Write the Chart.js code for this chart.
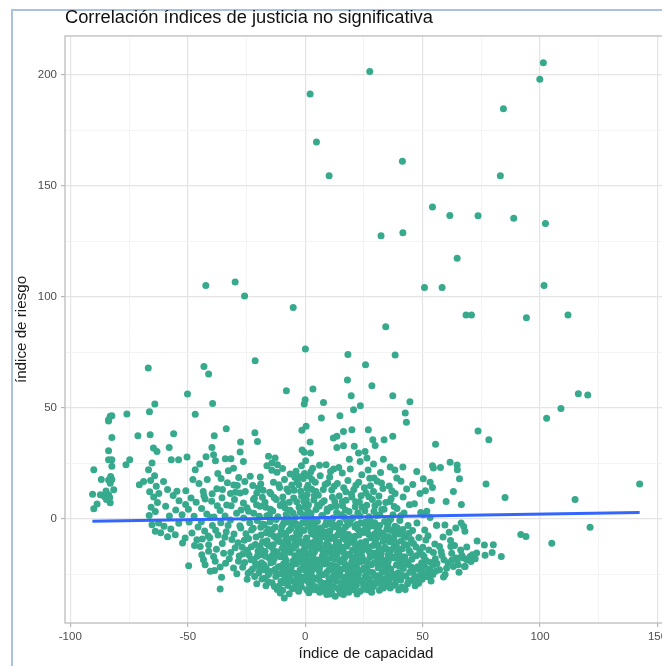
<!DOCTYPE html>
<html lang="es">
<head>
<meta charset="utf-8">
<title>Correlación índices de justicia no significativa</title>
<script src="https://cdn.jsdelivr.net/npm/chart.js@4.4.1/dist/chart.umd.min.js"></script>
<style>
  html, body { margin: 0; padding: 0; background: #ffffff; overflow: hidden; }
  #marco {
    position: absolute; left: 11px; top: 9px; width: 720px; height: 720px;
    border-left: 2px solid #a9c2e2; border-top: 2px solid #a9c2e2; z-index: 0;
  }
  #lienzo { position: absolute; left: 0; top: 0; width: 680px; height: 666px; z-index: 1; }
</style>
</head>
<body>
<div id="marco"></div>
<div id="lienzo"><canvas id="grafico" width="680" height="666"></canvas></div>
<script>
// Valores atípicos altos: [índice de capacidad, índice de riesgo]
const puntosAltos = [
  [27.5,201.5],[2.1,191.4],[4.8,169.7],[10.2,154.5],[41.4,161],[32.3,127.5],[41.6,128.8],
  [-42.3,105.1],[-29.8,106.6],[-25.8,100.3],[-5.1,95.2],[34.3,86.5],[0.1,76.4],[18.2,74],
  [38.3,73.7],[-21.3,71.2],[25.7,69.4],[-43.1,68.6],[-41.1,65.2],[18,62.5],[101.4,205.4],
  [99.9,198],[84.4,184.7],[83.1,154.5],[54.2,140.4],[61.6,136.6],[73.6,136.5],[88.8,135.4],
  [102.3,133],[64.7,117.4],[50.8,104.2],[58.3,104.2],[101.7,105.1],[68.5,91.8],[70.8,91.8],
  [94.2,90.5],[111.9,91.8],[-66.8,67.9],[-50.1,56.2],[3.3,58.4],[0,53.6],[-0.4,51.7],
  [-8,57.7],[28.4,59.9],[37.3,55.4],[44.6,52.7],[42.6,47.6],[43.1,43.4],[19.6,55.4],
  [23.5,50.9],[20.6,49.1],[7.8,52.4],[14.8,46.4],[6.9,45.4],[116.3,56.3],[120.3,55.7],
  [108.9,49.7],[102.8,45.2],[73.6,39.5],[78.2,35.6]
];

// Grupo del extremo izquierdo
const grupoIzquierdo = [
  [-90,22],[-90.5,11],[-90,4.5],[-88.6,6.6],[-86.8,17.6],[-87.2,10.8],[-85.5,10],[-83.7,44.6],
  [-83,46.1],[-82.3,46.4],[-83.7,44],[-82.3,36.6],[-83.7,30.6],[-83.7,26.6],[-82.3,26.6],
  [-82.3,23.6],[-82.8,19],[-82.3,17.6],[-83.7,17.4],[-83,16],[-83.7,10.8],[-83,7.2],
  [-84.6,8.6],[-83.2,9.5],[-75.9,47.2],[-76.3,24.3],[-74.7,26.6],[-71.2,37.4],[-70.6,15.3],
  [-68.8,16.8],[-84.8,12.5],[-81.5,13]
];

// Zona intermedia izquierda (capacidad entre -70 y -20)
const grupoMedio = [
  [-66,37.8],[-66.3,48.2],[-64,51.7],[-64.6,31.8],[-63.1,30.3],[-65.2,25.1],[-66.7,22.1],
  [-64.1,19.4],[-65.8,17.2],[-63.4,14.6],[-66.2,12.1],[-64.5,9.8],[-62.9,7.3],[-65.6,5.1],
  [-63.8,3.2],[-66.4,1.4],[-62.3,11.4],[-56,38.3],[-57.9,32.1],[-57,26.6],[-53.9,26.6],
  [-50.3,27.8],[-60.3,16.8],[-58.6,13.2],[-56.2,10.4],[-53.7,8.1],[-59.4,5.6],[-55.1,3.9],
  [-52.4,1.8],[-57.8,1.2],[-50.8,12.6],[-48.6,9.3],[-46.8,22.1],[-46.8,47],[-39.4,51.9],
  [-38.7,37.4],[-33.6,40.5],[-27.5,34.5],[-27.7,30],[-21.4,38.7],[-39.7,32.1],[-39,28.8],
  [-38.2,26.1],[-34,27],[-31.6,27],[-30.5,22.7],[-20.3,34.8],[-26.3,25.8],[-45.2,15.8],
  [-43.4,12.2],[-41.7,17.6],[-39.8,7.9],[-37.6,13.5],[-35.4,9.4],[-33.1,16.2],[-31.5,5.8],
  [-29.7,11.9],[-28.3,18.6],[-26.3,7.1],[-27.7,11.6],[-25.5,12.3],[-44.1,4.6],[-41.9,2.1],
  [-38.8,0.8],[-36.2,3.7],[-34.1,1.2],[-31.8,-0.6],[-29.2,2.4],[-47.3,1.1],[-49.7,4.2],
  [-42.6,8.9],[-37.2,20.4],[-32.7,21.6],[-35.8,18.1],[-30.4,15.2],[-47.8,17.7],[-44.9,24.6],
  [-42.2,27.9],[-65.2,-2.7],[-62.4,-1.9],[-63.8,-5.7],[-60.1,-3.4],[-57.2,-4.6],[-55.3,-7.2],
  [-51.1,-8.7],[-48.2,-6.4],[-46.1,-9.5],[-44.7,-12.5],[-41.1,-11.7],[-52.2,-11],[-53.8,-2.1],
  [-49.4,-1.5],[-44,-16.2],[-41.1,-14.7],[-39,-17],[-38.3,-19.2],[-43.3,-18.5],[-42.6,-20.7],
  [-40.4,-23.7],[-38.6,-23.3],[-36.2,-21.8],[-49.6,-21.2],[-36.2,-31.7],[-30.5,-22.2],
  [-29.1,-24.8],[-28.4,-19.2],[-26.5,-15.9],[-45.6,-3.8],[-42.8,-5.6],[-39.5,-3.1],[-37.1,-7.4],
  [-35.3,-11.2],[-33.6,-5.9],[-31.2,-9.4],[-29.8,-13.1],[-27.4,-4.2],[-25.9,-9.7],[-34.7,-15.6],
  [-32.3,-18.1],[-37.8,-13.8],[-40.6,-8.6],[-58.6,-8.1],[-61.5,-6.3],
  [-44.2,-1.4],[-41.3,-7.8],[-38.1,-5.2],[-35.9,-1.8],[-32.8,-3.1],[-30.3,-6.9],[-28.6,-10.8],
  [-26.8,-12.9],[-34.2,-8.4],[-40.3,0.6],[-37.4,5.8],[-33.4,6.2],[-30.1,8.7],[-27.3,3.9],
  [-43.1,10.3],[-46.4,7.4],[-39.6,11.2],[-35.2,13.1],[-31.8,11.4],[-28.9,14.9],[-25.7,16.7],
  [-50.9,6.4],[-54.6,12.4],[-47.1,-12.1],[-43.8,-9.1],[-31.7,-15.2],[-28.1,-16.8],[-33.9,-20.1],
  [-26.6,-21.9],[-24.7,-27.3],[-35.6,-26.4]
];

// Núcleo denso (capacidad entre -25 y 45), primera pasada por franjas verticales
const nucleo = [
  [-24.6,-14.2],[-23.1,-18.5],[-22.4,-22.7],[-21.5,-26.1],[-20.6,-29.3],[-24.1,-8.9],[-22.8,-5.1],
  [-21.2,-11.6],[-20.4,-16.9],[-23.6,-1.8],[-21.9,2.4],[-24.8,4.9],[-20.7,6.3],[-22.3,14.9],
  [-19.9,13.8],[-20.6,11.6],[-22,8.6],[-23.4,19.1],[-21.1,-20.3],[-24.3,-24.6],
  [-19.1,18.8],[-16.3,23.9],[-15.6,28.1],[-18.2,9.7],[-16.8,5.2],[-19.5,1.1],[-17.4,-2.6],
  [-15.9,-4.8],[-18.8,-7.3],[-16.2,-9.9],[-19.3,-12.4],[-17.1,-14.8],[-15.4,-17.6],[-18.6,-19.9],
  [-16.6,-22.1],[-19.7,-24.5],[-17.2,-26.8],[-15.8,-28.4],[-16.7,-30.2],[-18.9,-3.9],[-15.2,1.7],
  [-17.9,12.8],[-15.5,-12.1],[-19,-16.2],
  [-14.2,25.1],[-12.8,27.3],[-11.8,24.3],[-14.2,21.8],[-12,20.9],[-13.5,16.4],[-10.9,14.1],
  [-14.6,11.2],[-12.3,8.7],[-10.4,6.1],[-13.8,3.5],[-11.6,0.9],[-14.9,-1.4],[-12.7,-3.8],
  [-10.2,-5.5],[-13.3,-7.9],[-11.1,-10.3],[-14.4,-12.6],[-12.1,-14.9],[-10.6,-17.2],[-13.7,-19.4],
  [-11.4,-21.7],[-14.8,-23.8],[-12.5,-26.1],[-10.3,-28.3],[-13.1,-30.6],[-10.6,-33.5],[-11.9,-31.9],
  [-14,-16.6],[-10.8,-24.8],
  [-8.9,-35.7],[-9.6,-32.2],[-7.3,-30.1],[-5.4,-31.6],[-8.1,-27.5],[-6.2,-25.3],[-9.4,-23.4],
  [-7.6,-21.1],[-5.3,-19.2],[-8.7,-17.4],[-6.5,-15.1],[-9.8,-13.3],[-7.2,-11.2],[-5.6,-8.8],
  [-8.4,-6.7],[-6.1,-4.4],[-9.2,-2.2],[-7.5,0.4],[-5.2,2.6],[-8.6,4.9],[-6.8,7.4],[-9.5,9.8],
  [-7.1,12.3],[-5.7,15.2],[-8.8,17.6],[-6.4,20.1],[-5.8,-23.9],[-9.1,-28.9],[-6.9,-1.6],[-8.3,-9.6],
  [-2.8,-32.7],[-4.1,-29.4],[-1.6,-30.8],[-3.5,-27.2],[-0.7,-26.4],[-4.6,-24.6],[-2.2,-23.1],
  [-0.4,-21.2],[-3.8,-20.3],[-1.3,-18.4],[-4.4,-16.7],[-2.6,-14.9],[-0.3,-13.6],[-3.9,-12.1],
  [-1.7,-10.4],[-4.8,-8.6],[-2.4,-7.1],[-0.6,-5.3],[-3.3,-3.6],[-1.1,-1.8],[-4.3,0.7],[-2.1,2.9],
  [-0.2,5.4],[-3.6,7.6],[-1.5,10.1],[-4.7,12.8],[-2.7,15.3],[-0.8,18.1],[-3.9,21.4],[-1.3,30.9],
  [-0.4,29.9],[-1.4,39.8],[-4.2,-11.3],[-1.9,-28.5],[-3,-18.9],
  [0.7,-32],[1.9,-29.6],[4.2,-30.5],[3.1,-27.8],[0.9,-25.6],[2.6,-24.1],[4.7,-22.5],[1.3,-20.8],
  [3.5,-19.1],[0.4,-17.3],[2.2,-15.6],[4.4,-13.9],[1.6,-12.2],[3.8,-10.5],[0.6,-8.7],[2.9,-6.9],
  [4.9,-5.2],[1.2,-3.4],[3.4,-1.7],[0.3,0.6],[2.5,2.3],[4.6,4.1],[1.4,6.2],[3.7,8.4],[0.8,10.9],
  [2.8,13.3],[4.3,16.4],[1.7,19.2],[3.2,22.7],[0.4,41.6],[2.1,34.5],[2.3,29.6],[0.2,26.1],
  [4.1,-26.9],[2,-11.4],[0.9,-21.9],
  [5,-32],[9.2,-34.2],[6.8,-31.1],[8.4,-29.2],[5.7,-27.4],[7.6,-25.3],[9.5,-23.8],[6.1,-22.2],
  [8.2,-20.4],[5.4,-18.6],[7.3,-16.8],[9.7,-15.1],[6.6,-13.3],[8.8,-11.6],[5.9,-9.8],[7.9,-8.1],
  [9.9,-6.4],[6.3,-4.6],[8.6,-2.9],[5.2,-1.1],[7.4,1.2],[9.3,3.4],[6,5.7],[8.1,8.1],[5.6,10.6],
  [7.7,13.2],[9.6,16.1],[6.4,19.4],[8.9,24.3],[9.1,-19.7],[6.5,-7.2],[8,-32.6],
  [12.8,-35],[11.2,-32.9],[14.1,-31.6],[10.6,-29.8],[13.2,-28.1],[11.7,-26.3],[14.6,-24.6],
  [10.3,-22.9],[12.5,-21.2],[14.8,-19.4],[11.1,-17.7],[13.6,-15.9],[10.8,-14.2],[12.9,-12.4],
  [14.3,-10.7],[11.4,-8.9],[13.9,-7.2],[10.5,-5.4],[12.2,-3.7],[14.7,-1.9],[11.8,0.3],[13.4,2.8],
  [10.9,5.1],[12.6,7.8],[14.5,10.2],[11.3,12.9],[13.7,15.8],[10.4,18.7],[12,36.3],[13.5,37.1],
  [13.5,32.1],[12.1,22.4],[10.7,-33.9],[13,-26.9],
  [16.3,-34.2],[18.6,-33.1],[15.7,-31.5],[17.9,-29.7],[19.6,-28.2],[16.2,-26.4],[18.3,-24.7],
  [15.4,-22.9],[17.5,-21.2],[19.8,-19.5],[16.8,-17.6],[18.9,-15.9],[15.6,-14.1],[17.7,-12.4],
  [19.4,-10.6],[16.1,-8.8],[18.4,-7.1],[15.3,-5.3],[17.2,-3.6],[19.1,-1.8],[16.6,0.7],[18.7,3.2],
  [15.9,5.8],[17.4,8.3],[19.7,11.1],[16.4,13.9],[18.2,17.2],[15.8,20.6],[17.6,-32.4],[16.3,39.3],
  [19.9,40.1],[16.3,32.9],[18.8,26.8],
  [20.6,-32],[23.4,-32.7],[21.8,-30.1],[24.2,-28.4],[20.9,-26.7],[22.7,-24.9],[24.6,-23.1],
  [21.3,-21.4],[23.1,-19.6],[20.4,-17.8],[22.2,-16.1],[24.4,-14.3],[21.6,-12.5],[23.7,-10.8],
  [20.8,-9.1],[22.9,-7.3],[24.8,-5.6],[21.2,-3.8],[23.5,-2.1],[20.3,0.4],[22.4,2.7],[24.3,5.2],
  [21.5,7.6],[23.8,10.3],[20.7,13.1],[22.8,16.4],[24.1,19.8],[20.9,32.6],[22.7,29.6],[23.4,25.8],
  [21.7,-28.9],
  [26.3,-29.7],[29.1,-30.5],[27.4,-27.8],[25.6,-25.9],[28.7,-24.3],[26.1,-22.6],[28.2,-20.8],
  [25.3,-19.1],[27.6,-17.3],[29.5,-15.6],[26.7,-13.8],[28.9,-12.1],[25.8,-10.3],[27.9,-8.6],
  [29.7,-6.8],[26.4,-5.1],[28.4,-3.3],[25.5,-1.6],[27.2,0.9],[29.3,3.4],[26.2,6.1],[28.6,8.7],
  [25.9,11.6],[27.8,14.8],[29.4,18.3],[26.8,21.9],[25.5,30.3],[26.3,27.3],[29.1,24.6],[26.9,40.1],
  [28.8,35.6],[29.8,33],[27,-32.1],
  [33.3,-31.2],[31.2,-29.1],[34.1,-27.5],[30.6,-25.7],[32.8,-24.1],[34.7,-22.3],[31.5,-20.6],
  [33.6,-18.8],[30.3,-17.1],[32.4,-15.3],[34.4,-13.6],[31.1,-11.8],[33.2,-10.1],[30.8,-8.3],
  [32.9,-6.6],[34.8,-4.8],[31.7,-3.1],[33.8,-1.3],[30.4,1.4],[32.6,4.1],[34.3,7.3],[31.4,10.2],
  [33.1,13.6],[30.7,16.9],[33.3,26.8],[33.6,35.6],[34.5,-29.9],
  [36.2,-31.2],[38.4,-29.6],[35.7,-27.9],[37.9,-26.2],[39.6,-24.4],[36.5,-22.7],[38.8,-20.9],
  [35.4,-19.2],[37.2,-17.4],[39.3,-15.7],[36.8,-13.9],[38.6,-12.2],[35.9,-10.4],[37.7,-8.7],
  [39.8,-6.9],[36.3,-5.2],[38.2,-3.4],[35.6,-1.1],[37.4,1.8],[39.1,4.6],[36.1,7.8],[38.3,11.4],
  [35.8,14.7],[39,18.3],[36.2,23.3],[37.3,37.1],
  [41.1,-30.8],[43.6,-29.3],[40.7,-27.6],[42.9,-25.8],[44.5,-24.1],[41.8,-22.4],[43.9,-20.6],
  [40.5,-18.9],[42.4,-17.1],[44.8,-15.4],[41.3,-13.6],[43.5,-11.9],[40.9,-10.1],[42.7,-8.4],
  [44.2,-6.6],[41.6,-4.9],[43.8,-3.1],[40.3,-0.8],[42.1,2.6],[44.4,6.3],[41.7,9.8],[43.2,13.4],
  [40.8,16.9],[41.6,23.3]
];

// Núcleo denso, segunda pasada por bandas horizontales
const nucleoInterior = [
  [-11.2,-30.4],[-6.8,-33.8],[-3.9,-31.2],[1.6,-33.4],[6.2,-33.1],[10.1,-31.4],[14.9,-33.6],
  [19.2,-30.9],[22.1,-33.9],[25.3,-31.8],[31.6,-32.2],[37.4,-30.1],[42.6,-31.9],[47.9,-28.9],
  [-18.4,-27.2],[-14.1,-28.9],[-8.7,-26.3],[-5.1,-28.1],[-1.2,-27.9],[2.8,-26.1],[6.7,-28.6],
  [11.5,-27.3],[15.1,-29.1],[18.6,-26.2],[23.2,-27.6],[27.9,-28.9],[32.1,-26.6],[35.8,-29.4],
  [39.7,-27.1],[44.1,-27.9],
  [-23.3,-23.8],[-19.4,-22.6],[-15.6,-25.2],[-12.9,-22.9],[-7.9,-24.1],[-3.1,-25.4],[0.2,-23.4],
  [3.6,-22.1],[8.9,-24.6],[12.2,-23.7],[16.8,-22.4],[20.1,-24.3],[25.1,-22.1],[29.2,-25.6],
  [33.7,-23.2],[37.2,-24.9],[41.2,-25.5],[45.3,-21.9],
  [-25.8,-19.7],[-21.8,-18.4],[-17.7,-20.6],[-13.2,-18.1],[-9.1,-20.2],[-5.9,-21.8],[-1.8,-19.6],
  [2.4,-21.1],[6.9,-19.3],[10.9,-20.9],[15.2,-18.5],[19.1,-21.6],[22.6,-18.9],[26.9,-20.1],
  [31.9,-18.6],[35.1,-21.3],[39.9,-18.4],[43.1,-19.4],
  [-23.9,-16.4],[-20.1,-14.6],[-16.9,-16.9],[-11.8,-15.8],[-7.7,-14.2],[-4.2,-17.3],[0.1,-15.1],
  [3.3,-17.2],[7.6,-14.8],[11.9,-16.4],[16.4,-15.2],[20.2,-14.1],[24.1,-16.9],[27.3,-14.9],
  [32.2,-16.8],[36.1,-15.3],[40.1,-16.1],[44.2,-14.3],
  [-22.9,-12.7],[-18.1,-10.4],[-13.6,-11.7],[-9.3,-10.9],[-5.4,-12.8],[-1.2,-11.1],[2.7,-13.1],
  [6.1,-10.6],[10.2,-12.3],[14.2,-13.3],[18.1,-11.2],[21.9,-13.6],[25.7,-11.4],[29.9,-10.2],
  [33.9,-12.9],[37.6,-10.9],[42.3,-11.6],
  [-25.2,-6.8],[-20.9,-8.2],[-16.6,-6.3],[-12.4,-8.6],[-8.2,-7.8],[-3.6,-6.2],[0.5,-8.9],
  [4.3,-7.7],[8.6,-6.1],[12.7,-8.4],[16.7,-6.6],[21.1,-7.9],[25.1,-6.2],[29.2,-8.8],[33.6,-7.6],
  [37.9,-6.1],[41.9,-7.3],
  [-27.8,-3.2],[-22.1,-4.3],[-18.3,-2.4],[-13.9,-4.9],[-9.8,-3.3],[-5.7,-2.1],[-1.9,-4.6],
  [2.2,-2.8],[6.8,-4.2],[10.6,-2.3],[14.4,-4.8],[18.3,-2.6],[22.4,-4.7],[26.6,-2.7],[30.6,-4.4],
  [35.1,-2.9],[39.2,-4.1],
  [-26.2,0.3],[-20.4,-0.8],[-16.3,1.3],[-12.3,-0.4],[-8.1,1.9],[-4.8,-0.6],[-0.9,1.5],[3.1,-0.2],
  [7.1,1.4],[11.3,-0.9],[15.4,1.8],[19.4,-0.3],[23.3,1.1],[27.6,-0.5],[31.8,1.7],[36.4,-0.2],
  [40.7,1.3],
  [-24.1,3.4],[-19.2,5.6],[-14.8,4.2],[-10.6,5.9],[-6.4,3.8],[-2.6,5.1],[1.1,3.6],[5.3,6.1],
  [9.4,4.4],[13.2,5.7],[17.1,3.9],[21.3,5.4],[25.4,3.6],[29.7,5.8],[33.6,4.3],[37.9,5.5],
  [-21.6,9.2],[-17.1,7.4],[-13.2,9.6],[-9.4,7.1],[-4.9,9.3],[-0.6,7.9],[3.9,10.4],[7.1,7.2],
  [11.6,9.7],[15.8,7.6],[19.9,9.8],[23.1,7.5],[27.1,9.9],[31.2,7.1],[36.6,9.1],
  [-18.9,15.6],[-15.1,11.9],[-11.2,15.3],[-7.8,13.4],[-3.4,16.6],[0.7,13.7],[4.6,12.2],[8.5,15.4],
  [12.4,14.6],[17.3,12.1],[21.6,15.1],[25.2,13.9],[29.1,12.2],[32.5,16.1],[36.9,12.6],
  [-9.6,22.6],[-4.4,18.7],[-1.6,23.9],[2.4,21.1],[6.1,24.1],[10.8,21.3],[14.3,23.1],[19.2,22.4],
  [27.5,18.2],[32.1,20.8],[38.2,21.9]
];

// Núcleo denso, tercera pasada en la zona más cargada (riesgo negativo)
const nucleoCentral = [
  [-7.9,-29.1],[-2.1,-29.7],[3.4,-31.9],[8.7,-30.4],[12.3,-30.8],[17.1,-31.1],[21.2,-29.5],
  [24.9,-30.4],[28.3,-33.2],[32.7,-29.6],[39.8,-32.1],
  [-12.1,-25.3],[-6.9,-27.6],[-2.4,-26.1],[1.2,-28.2],[5.9,-25.9],[10.1,-27.1],[13.9,-26.1],
  [17.4,-28.1],[21.7,-26.1],[26.6,-26.8],[30.4,-27.9],[35.1,-25.9],[38.6,-27.9],
  [-17.2,-23.1],[-10.3,-21.4],[-6.6,-22.6],[-1.4,-22.6],[1.9,-24.6],[5.9,-23.4],[10.8,-21.9],
  [13.8,-22.1],[18.1,-23.2],[22.1,-22.3],[27.2,-23.9],[31.1,-22.1],[36.2,-23.7],[40.2,-21.3],
  [-20.7,-20.7],[-14.6,-19.9],[-8.2,-18.6],[-3.2,-17.7],[1.1,-18.9],[4.8,-20.1],[8.4,-17.6],
  [12.6,-18.3],[16.9,-20.4],[21.1,-19.6],[24.7,-18.4],[29.4,-19.9],[33.6,-20.7],[38.1,-17.7],
  [41.9,-20.2],
  [-18.8,-13.9],[-13.4,-14.4],[-9.2,-15.9],[-5.1,-13.3],[-0.9,-16.4],[3.9,-15.1],[8.2,-13.2],
  [12.1,-14.9],[16.1,-12.9],[19.3,-16.6],[23.4,-13.3],[28.1,-15.3],[31.4,-13.9],[35.3,-16.4],
  [39.4,-13.4],
  [-16.4,-11.2],[-11.9,-9.2],[-7.4,-12.4],[-3.2,-9.4],[1.3,-10.6],[5.1,-12.1],[9.6,-9.7],
  [13.3,-10.9],[17.4,-9.6],[21.3,-11.3],[26.3,-12.4],[30.1,-11.2],[34.6,-9.5],[38.9,-10.8],
  [-14.8,-6.9],[-10.9,-7.6],[-6.9,-5.3],[-2.9,-8.2],[2.4,-5.6],[6.2,-8.7],[10.4,-7.2],
  [14.7,-5.6],[19.1,-8.4],[23.3,-5.9],[27.1,-7.1],[31.3,-5.4],[35.4,-8.1],[40.3,-5.8],
  [-8.9,-0.7],[-3.8,-2.4],[0.9,-1.1],[4.2,-3.3],[9.1,-1.4],[13.1,-3.1],[17.6,-0.6],[21.9,-2.6],
  [25.8,-3.9],[29.6,-1.8],
  [-1.9,12.4],[1.2,15.1],[-0.3,20.4],[2.9,17.6],[0.5,8.4],[-2.3,18.9]
];

// Zona derecha (capacidad mayor que 45)
const grupoDerecho = [
  [46.8,-30.2],[45.6,-27.8],[48.1,-26.4],[49.3,-24.7],[46.2,-23.2],[47.9,-21.6],[49.6,-19.8],
  [45.4,-18.3],[47.3,-16.7],[48.8,-14.6],[46.1,-11.2],[48.4,-8.5],[45.7,-5.3],[47.6,-1.9],
  [49.2,2.8],[46.5,6.7],[48.9,11.3],[45.8,15.4],[47.5,21.3],[48.9,-23],[50.3,-24.2],
  [50.3,18],[51.8,3.3],[50.3,1.8],[53.2,0.5],[52.3,-7.7],[50.1,-12.9],[54.6,-15.2],[50.6,-17],
  [53.5,-19.7],[52,-24.2],[52.5,-26],[51.8,-26],[55.9,-3],[54.2,23.9],[54.6,22.8],[53.2,16.4],
  [54.2,14.1],[55.5,33.5],[50.8,-21.4],[53.1,-22.8],[54.8,-20.6],[51.4,-9.6],[55.2,-11.4],
  [52.7,-14.1],[54.4,-25.1],[50.9,-5.1],[53.8,8.2],[51.2,12.6],[55.4,-18.1],
  [57.2,-23],[63.1,-21.5],[68.1,-21.5],[57.2,-12.5],[62,-12.5],[68.8,-12.8],[58.2,-16.5],
  [59.1,-18.5],[66.7,-16.5],[67.4,-17.7],[68.8,-18.5],[67.8,-21.5],[64.3,-17.7],[64.8,-18.5],
  [66.4,-1.9],[67.5,-3.5],[68,-5.7],[64.1,-4.2],[60,7.8],[66.5,6.4],[63.1,12.3],[65.7,18],
  [57.6,23.1],[61.7,25.4],[64.7,24.2],[64.8,22.1],[56,-3],[60.8,-19.9],[62.4,-15.6],
  [58.7,-8.3],[61.3,-6.1],[59.6,-25.1],[65.5,-24.1],
  [45.1,-9.4],[47.2,-12.8],[49.9,-16.2],[51.6,-18.9],[46.6,-25.8],[48.3,-29.1],[49.8,-27.3],
  [56.1,-20.2],[57.9,-14.8],[60.2,-22.3],[62.5,-18.6],[65.1,-20.7],[66.2,-14.1],[70.6,-19.3],
  [58.9,-26.3],[53.6,-28.1],[55.7,-23.6],[61.9,-9.8],[59.5,-2.9],[63.6,-12.1],
  [77,15.6],[85.1,9.5],[114.9,8.7],[142.4,15.6],[121.3,-3.9],[91.8,-7.1],[94,-8],[73.2,-10],
  [76.3,-11.9],[80.1,-11.7],[105,-11.1],[79.6,-15.2],[76.6,-16.5],[83.5,-17],[73,-15.5],
  [71.2,-16.2],[70.2,-17],[72.4,-18.1]
];

// Recta de regresión lineal (extremos del rango de capacidad)
const ajusteLineal = [[-90.6, -1.2], [142.4, 2.8]];

// Marcas de los ejes (cada 25; se rotulan las múltiplos de 50)
const marcasX = [-100, -75, -50, -25, 0, 25, 50, 75, 100, 125, 150];
const marcasY = [-25, 0, 25, 50, 75, 100, 125, 150, 175, 200];

const observaciones = []
  .concat(puntosAltos, grupoIzquierdo, grupoMedio, nucleo, nucleoInterior, nucleoCentral, grupoDerecho)
  .map(([x, y]) => ({ x, y }));

const FUENTE = "'Liberation Sans', Arial, Helvetica, sans-serif";
const esMayor = v => v % 50 === 0;

// Borde gris del panel, al estilo ggplot2 theme_light
const bordePanel = {
  id: 'bordePanel',
  afterDraw(chart) {
    const { ctx, chartArea: a } = chart;
    ctx.save();
    ctx.strokeStyle = '#bcbcbc';
    ctx.lineWidth = 1.3;
    ctx.strokeRect(a.left, a.top, a.right - a.left, a.bottom - a.top);
    ctx.restore();
  }
};

function ejeLineal(marcas, min, max) {
  return {
    type: 'linear',
    min, max,
    afterBuildTicks: s => { s.ticks = marcas.map(v => ({ value: v })); },
    grid: {
      color: c => esMayor(c.tick.value) ? '#e4e4e4' : '#f1f1f1',
      lineWidth: c => esMayor(c.tick.value) ? 1.2 : 0.8,
      tickColor: c => esMayor(c.tick.value) ? '#b3b3b3' : 'rgba(0,0,0,0)',
      tickLength: 4,
      tickWidth: 1.1
    },
    border: { display: false },
    ticks: {
      color: '#4d4d4d',
      font: { family: FUENTE, size: 11.5 },
      callback: v => esMayor(v) ? String(v) : '',
      autoSkip: false,
      maxRotation: 0
    }
  };
}

const ejeX = ejeLineal(marcasX, -102.25, 154.05);
ejeX.ticks.padding = 3;
ejeX.title = {
  display: true, text: 'índice de capacidad', color: '#1a1a1a',
  font: { family: FUENTE, size: 15.2 }, padding: { top: 0, bottom: 2.9 }
};
ejeX.afterFit = s => { s.height = 43; };

const ejeY = ejeLineal(marcasY, -47, 217.5);
ejeY.ticks.padding = 4;
ejeY.title = {
  display: true, text: 'índice de riesgo', color: '#1a1a1a',
  font: { family: FUENTE, size: 15.2 }, padding: { top: 13, bottom: 0 }
};
ejeY.afterFit = s => { s.width = 65; };

new Chart(document.getElementById('grafico'), {
  data: {
    datasets: [
      {
        type: 'line',
        data: ajusteLineal.map(([x, y]) => ({ x, y })),
        borderColor: '#3366ff',
        borderWidth: 3,
        pointRadius: 0,
        fill: false,
        order: 0
      },
      {
        type: 'scatter',
        data: observaciones,
        backgroundColor: '#37a98d',
        borderWidth: 0,
        pointRadius: 3.5,
        order: 1
      }
    ]
  },
  options: {
    responsive: false,
    animation: false,
    devicePixelRatio: 1,
    layout: { padding: { left: 0, right: 13, top: 0, bottom: 0 } },
    scales: { x: ejeX, y: ejeY },
    plugins: {
      legend: { display: false },
      tooltip: { enabled: false },
      title: {
        display: true,
        text: 'Correlación índices de justicia no significativa',
        align: 'start',
        fullSize: false,
        color: '#111111',
        font: { family: FUENTE, size: 18.3, weight: 'normal' },
        padding: { top: 7, bottom: 7 }
      }
    }
  },
  plugins: [bordePanel]
});
</script>
</body>
</html>
